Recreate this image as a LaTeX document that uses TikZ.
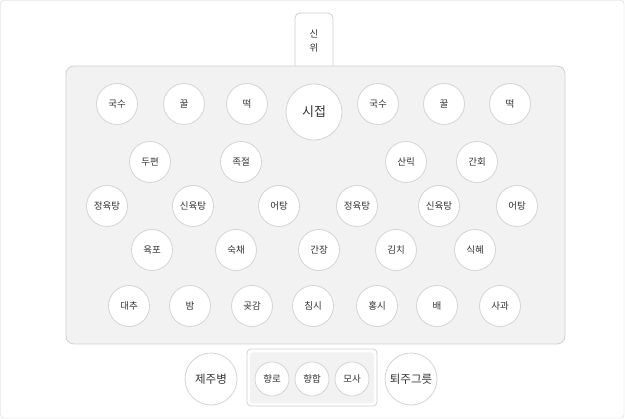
\documentclass[tikz,border=0pt]{standalone}
\usepackage{fontspec}
\setmainfont{Noto Sans CJK KR}
\definecolor{framegray}{HTML}{D0D0D0}
\definecolor{panelgray}{HTML}{F2F2F2}
\definecolor{dishline}{HTML}{D4D4D4}
\definecolor{textgray}{HTML}{333333}
\begin{document}
\begin{tikzpicture}[x=1pt,y=-1pt]
\tikzstyle{dish}=[draw=dishline, fill=white, circle, line width=0.8pt, inner sep=0pt, minimum size=41pt, text=textgray, font=\fontsize{9.5}{10}\selectfont]
\tikzstyle{bigdish}=[dish, minimum size=52pt, font=\fontsize{11.5}{12}\selectfont]
\tikzstyle{smalldish}=[dish, minimum size=34pt]
\useasboundingbox (0,0) rectangle (625,419);
\draw[framegray, rounded corners=3pt] (0.5,0.5) rectangle (624,418);
% tab and table
\draw[framegray, fill=white, line width=0.8pt, rounded corners=5pt] (295,66) -- (295,13) -- (333,13) -- (333,66);
\node[text=textgray, font=\fontsize{9.5}{14.5}\selectfont, align=center] (sinwi) at (314,41) {신\\위};
\draw[framegray, fill=panelgray, line width=0.8pt, rounded corners=8pt] (66,66) rectangle (565,344);

\node[dish] (v1) at (117,104) {국수};
\node[dish] (v2) at (184,104) {꿀};
\node[dish] (v3) at (247,104) {떡};
\node[dish, minimum size=56pt, font=\fontsize{13}{14}\selectfont] (v4) at (314,112) {시접};
\node[dish] (v5) at (378,104) {국수};
\node[dish] (v6) at (444,104) {꿀};
\node[dish] (v7) at (510,104) {떡};

\node[dish] (v8) at (150,162) {두편};
\node[dish] (v9) at (241,162) {족절};
\node[dish] (v10) at (406,162) {산릭};
\node[dish] (v11) at (477,162) {간회};

\node[dish] (v12) at (107,206) {정육탕};
\node[dish] (v13) at (193,206) {신육탕};
\node[dish] (v14) at (279,206) {어탕};
\node[dish] (v15) at (357,206) {정육탕};
\node[dish] (v16) at (439,206) {신육탕};
\node[dish] (v17) at (517,206) {어탕};

\node[dish] (v18) at (152,250) {육포};
\node[dish] (v19) at (236,250) {숙채};
\node[dish] (v20) at (319,250) {간장};
\node[dish] (v21) at (396,250) {김치};
\node[dish] (v22) at (475,250) {식혜};

\node[dish] (v23) at (129,306) {대추};
\node[dish] (v24) at (190,306) {밤};
\node[dish] (v25) at (252,306) {곶감};
\node[dish] (v26) at (313,306) {침시};
\node[dish] (v27) at (377,306) {홍시};
\node[dish] (v28) at (437,306) {배};
\node[dish] (v29) at (500,306) {사과};

% below the table
\node[bigdish] (v30) at (211,379) {제주병};
\node[bigdish] (v31) at (411,379) {퇴주그릇};
\draw[framegray, fill=white, line width=0.8pt, rounded corners=4pt] (247,349) rectangle (377,406);
\fill[panelgray, rounded corners=3pt] (250,352.5) rectangle (374,403.5);
\node[smalldish] (v32) at (272,379) {향로};
\node[smalldish] (v33) at (312,379) {향합};
\node[smalldish] (v34) at (352,379) {모사};
\end{tikzpicture}
\end{document}
